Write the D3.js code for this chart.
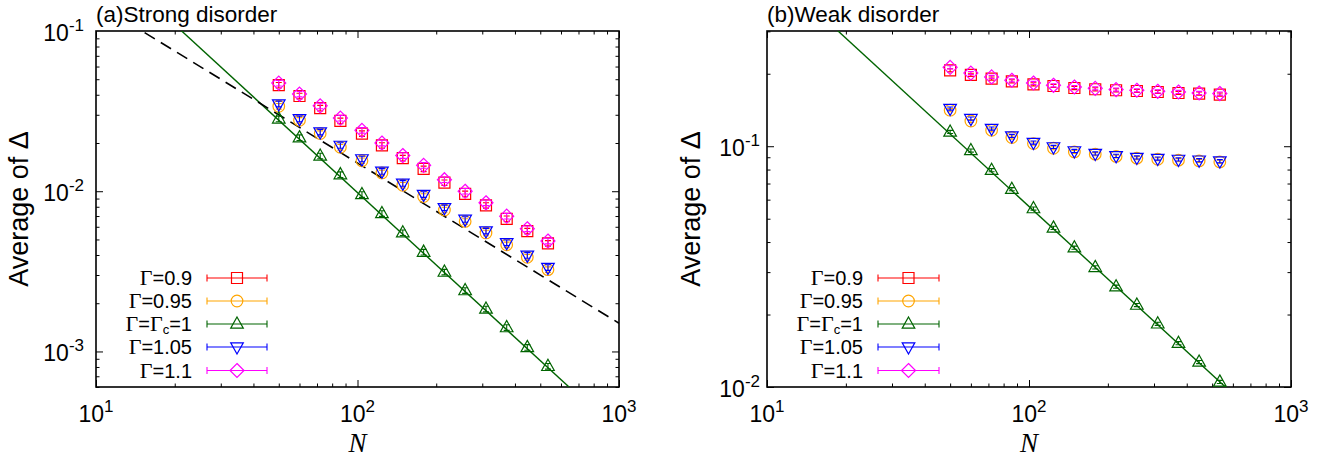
<!DOCTYPE html>
<html><head><meta charset="utf-8">
<script src="https://cdn.jsdelivr.net/npm/d3@7/dist/d3.min.js"></script>
<style>
html,body{margin:0;padding:0;background:#fff;}
svg{display:block;}
text{font-family:"Liberation Sans",Arial,sans-serif;fill:#000;}
</style></head>
<body>
<svg id="chart" width="1336" height="464"></svg>
<script>
// ---------------- data ----------------
const N = [50, 60, 72, 86, 104, 124, 149, 179, 215, 258, 310, 372, 446, 535];

const seriesNames = ["Γ=0.9", "Γ=0.95", "Γ=Γc=1", "Γ=1.05", "Γ=1.1"];
const seriesColors = ["#ff0000", "#ffa500", "#006400", "#0000ff", "#ff00ff"];
const seriesShapes = ["square", "circle", "triangle", "itriangle", "diamond"];

// (a) strong disorder
const strong_G090 = [0.0459, 0.0393, 0.0330, 0.0275, 0.0229, 0.0193, 0.0161, 0.0138, 0.0113, 0.00963, 0.00815, 0.00673, 0.00564, 0.00473];
const strong_G095 = [0.0339, 0.0277, 0.0229, 0.0188, 0.0155, 0.0130, 0.0109, 0.00927, 0.00764, 0.00648, 0.00549, 0.00463, 0.00387, 0.00324];
const strong_G100 = [0.0283, 0.0216, 0.0166, 0.0127, 0.00954, 0.00726, 0.00551, 0.00417, 0.00313, 0.00240, 0.00184, 0.00141, 0.00106, 0.000808];
const strong_G105 = [0.0350, 0.0283, 0.0234, 0.0193, 0.0159, 0.0133, 0.0112, 0.00954, 0.00788, 0.00667, 0.00564, 0.00477, 0.00398, 0.00334];
const strong_G110 = [0.0473, 0.0404, 0.0341, 0.0286, 0.0240, 0.0200, 0.0167, 0.0145, 0.0118, 0.0100, 0.00847, 0.00699, 0.00583, 0.00489];
const strong_relErr = 0.04;
// fitted lines (end points): critical  ~N^-1.5, dashed ~N^-1
const strong_fitCrit = [[10, 0.31], [1000, 0.00031]];
const strong_fitDash = [[10, 0.15], [1000, 0.0015]];

// (b) weak disorder
const weak_G090 = [0.2067, 0.1980, 0.1910, 0.1861, 0.1808, 0.1779, 0.1745, 0.1724, 0.1708, 0.1696, 0.1680, 0.1664, 0.1655, 0.1639];
const weak_G095 = [0.1411, 0.1273, 0.1165, 0.1087, 0.1026, 0.0981, 0.0947, 0.0927, 0.0907, 0.0892, 0.0883, 0.0875, 0.0869, 0.0861];
const weak_G100 = [0.1146, 0.0960, 0.0795, 0.0663, 0.0551, 0.0458, 0.0379, 0.0314, 0.0261, 0.0219, 0.0183, 0.0152, 0.0127, 0.0105];
const weak_G105 = [0.1434, 0.1302, 0.1184, 0.1103, 0.1036, 0.0993, 0.0956, 0.0933, 0.0912, 0.0898, 0.0889, 0.0881, 0.0875, 0.0867];
const weak_G110 = [0.2127, 0.2013, 0.1940, 0.1879, 0.1831, 0.1791, 0.1762, 0.1740, 0.1719, 0.1708, 0.1691, 0.1680, 0.1664, 0.1655];
const weak_relErr = 0.015;
const weak_fitCrit = [[10, 0.562], [1000, 0.00562]];

const xTickExps = [1, 2, 3];
const strongYTickExps = [-1, -2, -3];
const weakYTickExps = [-1, -2];

// ---------------- layout ----------------
const svg = d3.select("#chart");
const panels = [
  { id: "a", title: "(a)Strong disorder", left: 96, right: 619, top: 31, bottom: 387,
    yDomain: [6e-4, 0.1], yTicks: strongYTickExps, ylabX: 28, yTickEnd: 84,
    series: [strong_G090, strong_G095, strong_G100, strong_G105, strong_G110], relErr: strong_relErr,
    lines: [{ d: strong_fitCrit, color: "#006400", dash: null }, { d: strong_fitDash, color: "#000", dash: "12,7" }],
    legTextEnd: 192, legLine: [207, 267] },
  { id: "b", title: "(b)Weak disorder", left: 767, right: 1291, top: 31, bottom: 387,
    yDomain: [0.01, 0.301], yTicks: weakYTickExps, ylabX: 700, yTickEnd: 760,
    series: [weak_G090, weak_G095, weak_G100, weak_G105, weak_G110], relErr: weak_relErr,
    lines: [{ d: weak_fitCrit, color: "#006400", dash: null }],
    legTextEnd: 863, legLine: [878, 939] }
];
const legendRows = [278, 301, 324, 347, 370.5];

function markerPath(shape) {
  const s = 5.5;
  switch (shape) {
    case "square": return `M${-s},${-s}H${s}V${s}H${-s}Z`;
    case "circle": return d3.arc()({ innerRadius: 0, outerRadius: 5.8, startAngle: 0, endAngle: 2 * Math.PI });
    case "triangle": return `M0,-7L6.3,4.2L-6.3,4.2Z`;
    case "itriangle": return `M0,7L6.3,-4.2L-6.3,-4.2Z`;
    case "diamond": return `M0,-7L7,0L0,7L-7,0Z`;
  }
}

panels.forEach(p => {
  const x = d3.scaleLog().domain([10, 1000]).range([p.left, p.right]);
  const y = d3.scaleLog().domain(p.yDomain).range([p.bottom, p.top]);
  const g = svg.append("g");

  const clipId = "clip" + p.id;
  svg.append("clipPath").attr("id", clipId).append("rect")
    .attr("x", p.left).attr("y", p.top).attr("width", p.right - p.left).attr("height", p.bottom - p.top);

  // axes with inward ticks on all four sides
  const xTickVals = [];
  for (let e = 1; e < 3; e++) for (let m = 1; m <= 9; m++) xTickVals.push(m * Math.pow(10, e));
  xTickVals.push(1000);
  const yTickVals = [];
  const lo = Math.floor(Math.log10(p.yDomain[0])), hi = Math.ceil(Math.log10(p.yDomain[1]));
  for (let e = lo; e < hi; e++) for (let m = 1; m <= 9; m++) {
    const v = m * Math.pow(10, e);
    if (v >= p.yDomain[0] * 0.999 && v <= p.yDomain[1] * 1.001) yTickVals.push(v);
  }
  const isMajor = v => Math.abs(Math.log10(v) - Math.round(Math.log10(v))) < 1e-9;
  const tickLen = v => isMajor(v) ? 7 : 3.5;

  const axB = g.append("g").attr("transform", `translate(0,${p.bottom})`)
    .call(d3.axisBottom(x).tickValues(xTickVals).tickSizeInner(0).tickSizeOuter(0).tickFormat(""));
  const axT = g.append("g").attr("transform", `translate(0,${p.top})`)
    .call(d3.axisTop(x).tickValues(xTickVals).tickSizeInner(0).tickSizeOuter(0).tickFormat(""));
  const axL = g.append("g").attr("transform", `translate(${p.left},0)`)
    .call(d3.axisLeft(y).tickValues(yTickVals).tickSizeInner(0).tickSizeOuter(0).tickFormat(""));
  const axR = g.append("g").attr("transform", `translate(${p.right},0)`)
    .call(d3.axisRight(y).tickValues(yTickVals).tickSizeInner(0).tickSizeOuter(0).tickFormat(""));
  [axB, axT, axL, axR].forEach(a => a.select(".domain").remove());
  axB.selectAll(".tick line").attr("y2", d => -tickLen(d));
  axT.selectAll(".tick line").attr("y2", d => tickLen(d));
  axL.selectAll(".tick line").attr("x2", d => tickLen(d));
  axR.selectAll(".tick line").attr("x2", d => -tickLen(d));
  g.selectAll(".tick line").attr("stroke", "#000").attr("stroke-width", 1);

  g.append("rect").attr("x", p.left).attr("y", p.top)
    .attr("width", p.right - p.left).attr("height", p.bottom - p.top)
    .attr("fill", "none").attr("stroke", "#000").attr("stroke-width", 1.6);

  // x tick labels
  xTickExps.forEach(e => {
    const t = g.append("text").attr("x", x(Math.pow(10, e))).attr("y", p.bottom + 35)
      .attr("text-anchor", "middle").attr("font-size", 23);
    t.append("tspan").text("10");
    t.append("tspan").attr("dy", -10).attr("font-size", 17).text(e);
  });
  // y tick labels
  p.yTicks.forEach(e => {
    const t = g.append("text").attr("x", p.yTickEnd).attr("y", y(Math.pow(10, e)) + 10)
      .attr("text-anchor", "end").attr("font-size", 23);
    t.append("tspan").text("10");
    t.append("tspan").attr("dy", -10).attr("font-size", 17).text(e);
  });

  // axis labels & title
  g.append("text").attr("transform", `translate(${p.ylabX},${(p.top + p.bottom) / 2}) rotate(-90)`)
    .attr("text-anchor", "middle").attr("font-size", 27).text("Average of Δ");
  g.append("text").attr("x", (p.left + p.right) / 2).attr("y", 452).attr("text-anchor", "middle")
    .attr("font-size", 27).attr("font-style", "italic")
    .style("font-family", '"Liberation Serif","Times New Roman",serif').text("N");
  g.append("text").attr("x", p.left).attr("y", 22).attr("font-size", 22.5).text(p.title);

  // fit lines
  const lineGen = d3.line().x(d => x(d[0])).y(d => y(d[1]));
  p.lines.forEach(l => {
    g.append("path").attr("d", lineGen(l.d)).attr("clip-path", `url(#${clipId})`)
      .attr("fill", "none").attr("stroke", l.color).attr("stroke-width", l.dash ? 1.6 : 1.4)
      .attr("stroke-dasharray", l.dash);
  });

  // data series
  p.series.forEach((vals, si) => {
    const col = seriesColors[si];
    const sg = g.append("g").attr("clip-path", `url(#${clipId})`);
    const pts = N.map((n, i) => ({ n, v: vals[i] }));
    // error bars
    pts.forEach(d => {
      const y1 = y(d.v * (1 + p.relErr)), y2 = y(d.v * (1 - p.relErr)), cx = x(d.n);
      sg.append("path").attr("d", `M${cx},${y1}V${y2}M${cx - 3},${y1}H${cx + 3}M${cx - 3},${y2}H${cx + 3}`)
        .attr("stroke", col).attr("stroke-width", 1.1).attr("fill", "none");
    });
    sg.selectAll(null).data(pts).join("path")
      .attr("d", markerPath(seriesShapes[si]))
      .attr("transform", d => `translate(${x(d.n)},${y(d.v)})`)
      .attr("fill", "none").attr("stroke", col).attr("stroke-width", 1.2);
  });

  // legend
  legendRows.forEach((ry, si) => {
    const col = seriesColors[si];
    const t = g.append("text").attr("x", p.legTextEnd).attr("y", ry + 7).attr("text-anchor", "end").attr("font-size", 20);
    const parts = seriesNames[si].split(/(Γ|c)/).filter(s => s.length);
    let sub = false;
    parts.forEach(s => {
      if (s === "Γ") t.append("tspan").style("font-family", '"Liberation Serif","Times New Roman",serif').attr("font-size", 22).text("Γ");
      else if (s === "c") { t.append("tspan").attr("dy", 3).attr("font-size", 13).text("c"); sub = true; }
      else { const ts = t.append("tspan").text(s); if (sub) { ts.attr("dy", -3); sub = false; } }
    });
    const [a, b] = p.legLine;
    g.append("path").attr("d", `M${a},${ry}H${b}M${a},${ry - 3.5}V${ry + 3.5}M${b},${ry - 3.5}V${ry + 3.5}`)
      .attr("stroke", col).attr("stroke-width", 1.1).attr("fill", "none");
    g.append("path").attr("d", markerPath(seriesShapes[si]))
      .attr("transform", `translate(${(a + b) / 2},${ry})`)
      .attr("fill", "none").attr("stroke", col).attr("stroke-width", 1.2);
  });
});
</script>
</body></html>
